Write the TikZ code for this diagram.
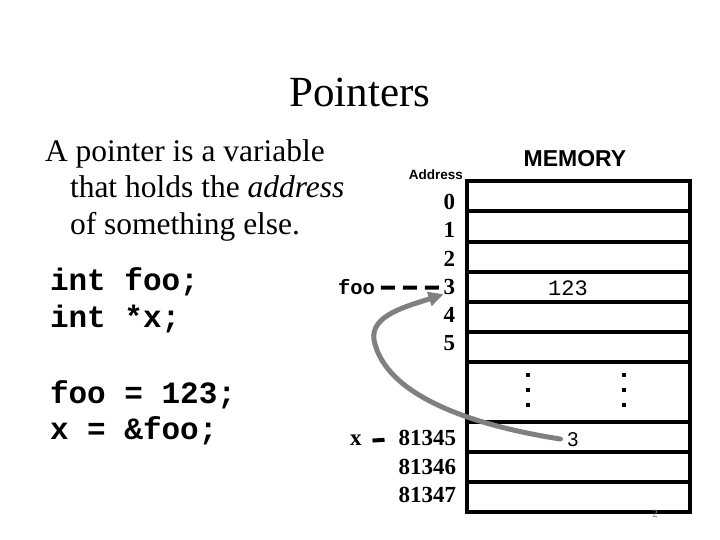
\documentclass[tikz,border=0pt]{standalone}
\usepackage{fontspec}
\setmainfont{Liberation Serif}
\setsansfont{Liberation Sans}
\setmonofont{Liberation Mono}
\usetikzlibrary{arrows.meta}
\definecolor{ptrgray}{HTML}{808080}
\newcommand{\fsz}[1]{\fontsize{#1}{#1}\selectfont}
\begin{document}
\begin{tikzpicture}[x=1pt,y=-1pt,
  every node/.style={inner sep=0pt,outer sep=0pt},
  title/.style={font=\fsz{43}},
  body/.style={font=\fsz{31.5},anchor=base west},
  code/.style={font=\fsz{31}\ttfamily\bfseries,anchor=base west},
  addr/.style={font=\fsz{23}\bfseries,anchor=base east},
  memline/.style={line width=4pt},
  dotsq/.style={fill=black},
  ptr/.style={draw=ptrgray,line width=5pt,line cap=round,-{Triangle[length=15pt,width=14pt]}},
  dashlink/.style={line width=4pt,dash pattern=on 14pt off 8pt}]
\useasboundingbox (0,0) rectangle (720,540);
% title
\node[title,anchor=base] (title) at (360,107) {Pointers};
% explanation
\node[body] (t1) at (45,162) {A pointer is a variable};
\node[body] (t2) at (70,198) {that holds the \textit{address}};
\node[body] (t3) at (70,235) {of something else.};
% code
\node[code] (c1) at (50,290) {int foo;};
\node[code] (c2) at (50,327) {int *x;};
\node[code] (c3) at (50,403) {foo = 123;};
\node[code] (c4) at (50,439) {x = \&foo;};
% memory header
\node[font=\fsz{23}\sffamily\bfseries,anchor=base] (mem) at (575,166.5) {MEMORY};
\node[font=\fsz{13.5}\sffamily\bfseries,anchor=base east] (addrlab) at (463,179.5) {Address};
% memory grid
\draw[memline] (467,181.5) rectangle (690,511.5);
\foreach \yy in {211.5,241.5,271.5,301.5,331.5,361.5,421.5,451.5,481.5}
  \draw[memline] (467,\yy) -- (690,\yy);
% addresses
\node[addr] (a0) at (455,209.5) {0};
\node[addr] (a1) at (455,237.7) {1};
\node[addr] (a2) at (455,266) {2};
\node[addr] (a3) at (455,294) {3};
\node[addr] (a4) at (455,322.5) {4};
\node[addr] (a5) at (455,350.7) {5};
\node[addr] (b0) at (456,445.5) {81345};
\node[addr] (b1) at (456,474) {81346};
\node[addr] (b2) at (456,502.5) {81347};
% labels
\node[font=\fsz{20.5}\ttfamily\bfseries,anchor=base west] (foolab) at (338,294) {foo};
\node[font=\fsz{23}\bfseries,anchor=base west] (xlab) at (350,445.5) {x};
\draw[dashlink] ([xshift=6pt,yshift=-1pt]foolab.east) -- ([xshift=-2pt,yshift=-1pt]a3.west);
\draw[line width=4pt,shorten <=11pt,shorten >=14pt] ([yshift=-1pt]xlab.east) -- ([yshift=-1pt]b0.west);
% values
\node[font=\fsz{22}\ttfamily,anchor=base] (v123) at (568,295) {123};
\node[font=\fsz{20}\sffamily,anchor=base] (val3) at (573,446) {3};
% dots
\foreach \xx in {528,624}
  \foreach \yy in {375,390,405}
    \fill[dotsq] (\xx-1.6,\yy-1.6) rectangle (\xx+1.6,\yy+1.6);
% pointer arrow
\draw[ptr,shorten <=7pt] ([yshift=-1pt]val3.west) .. controls (470,425) and (385,395) .. (374,340)
  .. controls (370,315) and (408,306) .. (a3.south west);
% page number
\node[font=\fsz{11},text=ptrgray,anchor=base] (pg) at (655,517) {2};
\end{tikzpicture}
\end{document}
